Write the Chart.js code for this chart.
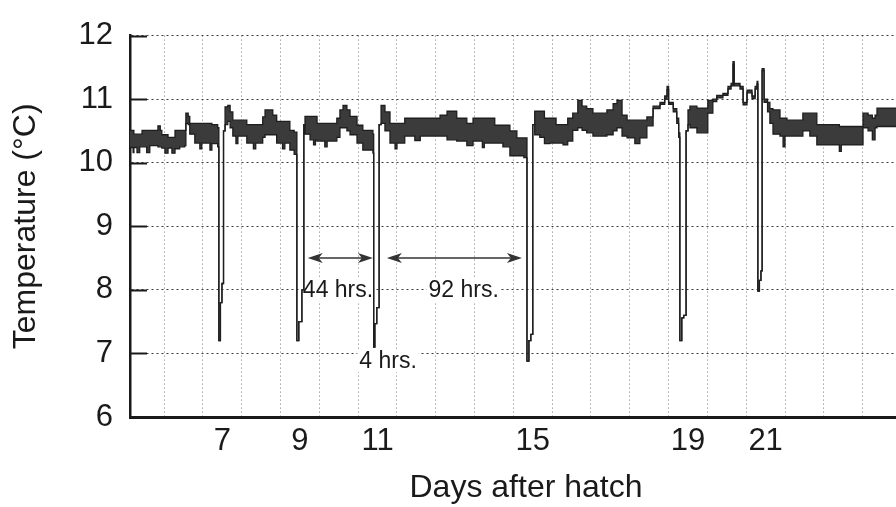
<!DOCTYPE html>
<html>
<head>
<meta charset="utf-8">
<script src="https://cdn.jsdelivr.net/npm/chart.js@4.4.1/dist/chart.umd.min.js"></script>
<style>
  html, body { margin: 0; padding: 0; background: #fff; overflow: hidden; width: 896px; height: 507px; }
  /* the original plot runs on past the right edge of the scan, so the canvas does too */
  #wrap { position: relative; width: 922px; height: 507px; }
</style>
</head>
<body>
<div id="wrap"><canvas id="tempChart"></canvas></div>
<script>
// days after hatch, with upper / lower edge of the logger trace (deg C)
const days = [
  4.62, 4.70, 4.72, 4.80, 4.87, 4.93, 5.05, 5.13, 5.34, 5.40, 5.44, 5.52, 5.60, 5.70, 5.78, 5.90, 6.03,
  6.06, 6.12, 6.16, 6.29, 6.42, 6.47, 6.68, 6.73, 6.88,
  6.91, 6.95, 6.99, 7.03,
  7.07, 7.14, 7.20, 7.27, 7.35, 7.40, 7.63, 7.80, 7.86, 8.04, 8.10, 8.30, 8.40, 8.55, 8.61, 8.74, 8.85,
  8.92, 8.97, 9.05, 9.10,
  9.13, 9.26, 9.35, 9.40, 9.44, 9.64, 9.70, 9.95, 10.03, 10.11, 10.21, 10.29, 10.47, 10.62, 10.88,
  10.90, 10.93, 10.98, 11.04,
  11.09, 11.19, 11.32, 11.45, 11.50, 11.70, 11.96, 12.10, 12.61, 12.79, 13.04, 13.30, 13.46, 13.70, 13.75,
  14.02, 14.23, 14.41, 14.59, 14.77,
  14.85, 14.90, 14.95, 15.00,
  15.05, 15.18, 15.30, 15.44, 15.60, 15.78, 15.90, 16.03, 16.16, 16.27, 16.39, 16.55, 16.91, 17.07, 17.17,
  17.30, 17.43, 17.63, 17.76, 17.94, 18.10, 18.28, 18.40, 18.46, 18.50, 18.62, 18.71, 18.76,
  18.79, 18.84, 18.89, 18.95,
  19.00, 19.05, 19.23, 19.51, 19.64, 19.74, 19.90, 20.03, 20.11, 20.16, 20.19, 20.34, 20.42, 20.52, 20.65,
  20.73, 20.78,
  20.80, 20.84, 20.88, 20.91,
  20.96, 21.05, 21.11, 21.19, 21.37, 21.45, 21.50, 21.55, 21.96, 22.14, 22.32, 22.90, 22.95, 23.38, 23.51,
  23.64, 23.75, 23.82, 23.87, 24.36
];
const tempHigh = [
  10.51, 10.51, 10.45, 10.45, 10.45, 10.51, 10.51, 10.51, 10.58, 10.51, 10.44, 10.44, 10.40, 10.40, 10.51, 10.51, 10.51,
  10.78, 10.73, 10.62, 10.62, 10.62, 10.62, 10.62, 10.60, 10.55,
  7.20, 7.80, 8.10, 10.50,
  10.88, 10.90, 10.80, 10.67, 10.67, 10.67, 10.60, 10.60, 10.60, 10.72, 10.83, 10.75, 10.65, 10.65, 10.65, 10.51, 10.48,
  7.20, 7.50, 8.00, 10.60,
  10.73, 10.73, 10.73, 10.73, 10.62, 10.62, 10.62, 10.70, 10.83, 10.90, 10.83, 10.73, 10.59, 10.51, 10.45,
  7.10, 7.47, 7.72, 10.60,
  10.90, 10.80, 10.62, 10.62, 10.62, 10.70, 10.70, 10.70, 10.75, 10.81, 10.70, 10.62, 10.70, 10.70, 10.70,
  10.59, 10.59, 10.50, 10.39, 10.39,
  6.88, 7.20, 7.30, 10.60,
  10.81, 10.81, 10.70, 10.70, 10.60, 10.60, 10.70, 10.78, 10.98, 10.89, 10.85, 10.78, 10.83, 10.93, 10.98,
  10.75, 10.67, 10.67, 10.67, 10.72, 10.89, 10.95, 11.05, 11.20, 10.95, 10.85, 10.70, 10.47,
  7.20, 7.56, 7.60, 10.50,
  10.83, 10.89, 10.86, 10.98, 11.00, 11.06, 11.09, 11.20, 11.25, 11.59, 11.25, 11.20, 10.95, 11.14, 11.05,
  11.20, 11.28,
  7.98, 8.15, 8.30, 11.48,
  11.00, 10.95, 10.85, 10.83, 10.70, 10.70, 10.70, 10.67, 10.78, 10.78, 10.60, 10.57, 10.57, 10.57, 10.78,
  10.75, 10.70, 10.75, 10.86, 10.86
];
const tempLow = [
  10.24, 10.16, 10.24, 10.16, 10.25, 10.25, 10.16, 10.27, 10.25, 10.25, 10.23, 10.15, 10.23, 10.15, 10.22, 10.25, 10.27,
  10.62, 10.60, 10.45, 10.31, 10.22, 10.31, 10.20, 10.30, 10.25,
  7.20, 7.80, 8.10, 10.50,
  10.60, 10.65, 10.55, 10.42, 10.30, 10.42, 10.31, 10.22, 10.31, 10.40, 10.44, 10.44, 10.31, 10.22, 10.31, 10.20, 10.13,
  7.20, 7.50, 8.00, 10.60,
  10.45, 10.36, 10.28, 10.36, 10.34, 10.25, 10.34, 10.40, 10.55, 10.55, 10.50, 10.44, 10.31, 10.20, 10.15,
  7.10, 7.47, 7.72, 10.60,
  10.62, 10.50, 10.31, 10.22, 10.31, 10.42, 10.35, 10.42, 10.42, 10.36, 10.34, 10.27, 10.34, 10.24, 10.31,
  10.31, 10.25, 10.11, 10.11, 10.08,
  6.88, 7.20, 7.30, 10.60,
  10.44, 10.40, 10.30, 10.31, 10.31, 10.28, 10.34, 10.51, 10.55, 10.51, 10.47, 10.42, 10.44, 10.50, 10.55,
  10.42, 10.39, 10.30, 10.39, 10.58, 10.85, 10.92, 11.00, 11.15, 10.92, 10.80, 10.62, 10.40,
  7.20, 7.56, 7.60, 10.50,
  10.60, 10.55, 10.47, 10.78, 10.96, 11.02, 11.06, 11.16, 11.21, 11.55, 11.21, 11.16, 10.91, 11.10, 11.01,
  11.16, 11.24,
  7.98, 8.15, 8.30, 11.45,
  10.95, 10.80, 10.62, 10.45, 10.42, 10.25, 10.42, 10.42, 10.50, 10.42, 10.28, 10.18, 10.28, 10.28, 10.55,
  10.50, 10.36, 10.55, 10.57, 10.57
];

const dayLabels = [7, 9, 11, 15, 19, 21];
const tempTicks = [7, 8, 9, 10, 11, 12];

// interval arrows and their captions
const arrowFrom = [9.20, 11.24];
const arrowTo = [10.88, 14.72];
const arrowTemp = 8.5;
const noteText = ['44 hrs.', '92 hrs.', '4 hrs.'];
const noteDay = [9.98, 13.22, 11.27];
const noteTemp = [8.0, 8.0, 6.88];

const X_MIN = 4.62, X_MAX = 25.03;
const FONT = '"Liberation Sans", Arial, Helvetica, sans-serif';
const INK = '#1a1a1a';

Chart.defaults.font.family = FONT;
Chart.defaults.color = INK;

const notesPlugin = {
  id: 'notes',
  beforeDatasetsDraw(chart) {
    const { ctx, scales: { x, y } } = chart;
    ctx.save();

    // short solid ticks on the inside of the temperature axis
    ctx.strokeStyle = INK;
    ctx.lineWidth = 2;
    tempTicks.forEach(t => {
      const py = Math.round(y.getPixelForValue(t)) + 0.5;
      ctx.beginPath();
      ctx.moveTo(x.left, py);
      ctx.lineTo(x.left + 17, py);
      ctx.stroke();
    });

    // captions, knocking out the grid behind them
    ctx.font = '23px ' + FONT;
    ctx.textAlign = 'center';
    ctx.textBaseline = 'middle';
    noteText.forEach((t, i) => {
      const px = x.getPixelForValue(noteDay[i]);
      const py = y.getPixelForValue(noteTemp[i]);
      const w = ctx.measureText(t).width;
      ctx.fillStyle = '#fff';
      ctx.fillRect(px - w / 2 - 2, py - 11, w + 4, 22);
      ctx.fillStyle = INK;
      ctx.fillText(t, px, py + 1);
    });

    // double headed arrows
    const py = y.getPixelForValue(arrowTemp);
    ctx.strokeStyle = '#333';
    ctx.fillStyle = '#333';
    ctx.lineWidth = 1.5;
    arrowFrom.forEach((d, i) => {
      const x1 = x.getPixelForValue(d);
      const x2 = x.getPixelForValue(arrowTo[i]);
      ctx.beginPath();
      ctx.moveTo(x1 + 4, py);
      ctx.lineTo(x2 - 4, py);
      ctx.stroke();
      [[x1, 1], [x2, -1]].forEach(([tx, dir]) => {
        ctx.beginPath();
        ctx.moveTo(tx, py);
        ctx.lineTo(tx + dir * 15, py - 5);
        ctx.lineTo(tx + dir * 11, py);
        ctx.lineTo(tx + dir * 15, py + 5);
        ctx.closePath();
        ctx.fill();
      });
    });

    ctx.restore();
  }
};

const ctx = document.getElementById('tempChart').getContext('2d');
new Chart(ctx, {
  type: 'line',
  data: {
    datasets: [{
      label: 'upper',
      data: days.map((d, i) => ({ x: d, y: tempHigh[i] })),
      borderColor: '#1e1e1e',
      borderWidth: 1.3,
      pointRadius: 0,
      stepped: true,
      fill: false
    },
    {
      label: 'lower',
      data: days.map((d, i) => ({ x: d, y: tempLow[i] })),
      borderColor: '#1e1e1e',
      borderWidth: 1.3,
      backgroundColor: '#3b3b3b',
      pointRadius: 0,
      stepped: true,
      fill: '-1'
    }]
  },
  options: {
    responsive: true,
    maintainAspectRatio: false,
    animation: false,
    layout: { padding: { left: 0, top: 32, right: 0, bottom: 0 } },
    scales: {
      x: {
        type: 'linear',
        min: X_MIN,
        max: X_MAX,
        afterFit: scale => { scale.height = 90; },
        afterBuildTicks: scale => {
          const ticks = dayLabels.map(v => ({ value: v }));
          for (let d = 5.5; d < X_MAX; d += 1) ticks.push({ value: d });
          scale.ticks = ticks.sort((a, b) => a.value - b.value);
        },
        grid: {
          color: c => (c.tick && Number.isInteger(c.tick.value)) ? 'rgba(0,0,0,0)' : '#7a7a7a',
          lineWidth: 1,
          drawTicks: false
        },
        border: { display: true, color: INK, width: 3, dash: [1, 3] },
        ticks: {
          autoSkip: false,
          maxRotation: 0,
          padding: 6,
          font: { size: 31 },
          color: INK,
          callback: v => dayLabels.includes(v) ? String(v) : ''
        },
        title: {
          display: true,
          text: 'Days after hatch',
          font: { size: 32 },
          color: INK,
          padding: { top: 4, bottom: 0 }
        }
      },
      y: {
        min: 6,
        max: 12,
        afterFit: scale => { scale.width = 130; },
        grid: { color: '#3a3a3a', lineWidth: 1, drawTicks: false },
        border: { display: true, color: INK, width: 2.5, dash: [2, 3] },
        ticks: {
          stepSize: 1,
          padding: 17,
          font: { size: 31 },
          color: INK
        },
        title: {
          display: true,
          text: 'Temperature (°C)',
          font: { size: 32 },
          color: INK,
          padding: { top: 7, bottom: 0 }
        }
      }
    },
    plugins: {
      legend: { display: false },
      tooltip: { enabled: false }
    }
  },
  plugins: [notesPlugin]
});
</script>
</body>
</html>
